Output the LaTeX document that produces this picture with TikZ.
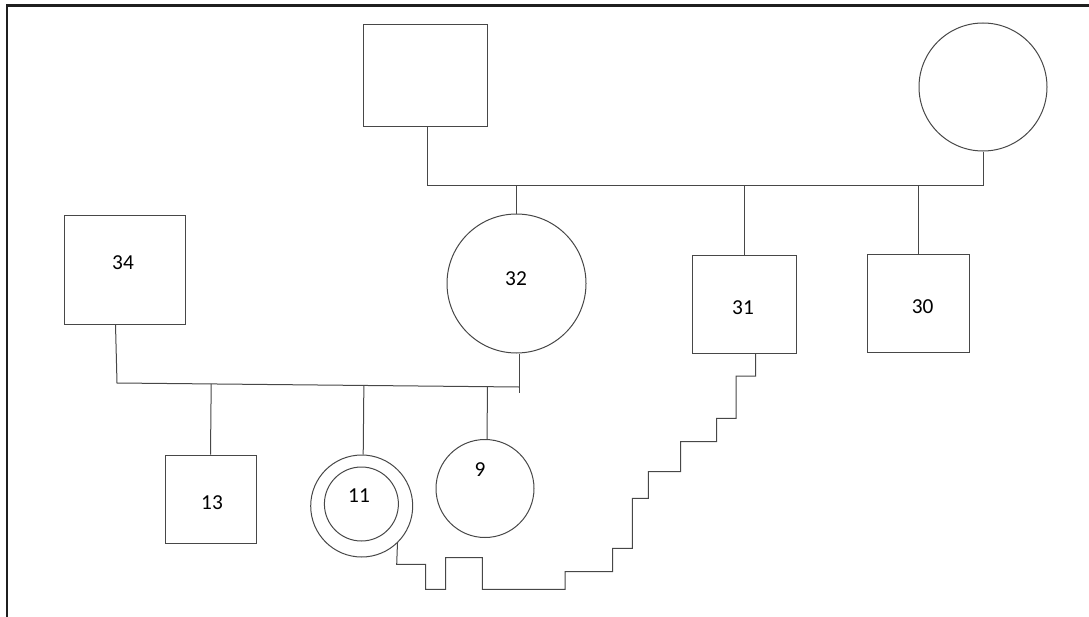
\documentclass[tikz,border=0pt]{standalone}
\usepackage{fontspec}
\setmainfont{Carlito}
\usetikzlibrary{calc}
\begin{document}
\begin{tikzpicture}[x=0.75pt,y=-0.75pt,
  ln/.style={draw=black!72,line width=0.75pt},
  sq/.style={ln,rectangle,inner sep=0pt},
  ci/.style={ln,circle,inner sep=0pt},
  lab/.style={font=\fontsize{16}{19}\selectfont,inner sep=0pt,text=black}]
\useasboundingbox (0,0) rectangle (1089,617);
% frame (top and left edges only)
\draw[black!88,line width=1.6pt] (7,617) -- (7,5.5) -- (1089,5.5);
% shapes
\node[sq,minimum width=93pt,minimum height=75.75pt] (F1) at (425,75.5) {};
\node[ci,minimum size=96pt] (M1) at (983,87) {};
\node[ci,minimum size=104.25pt] (C32) at (516.5,283.5) {};
\node[sq,minimum width=78pt,minimum height=73.5pt] (S31) at (744,304) {};
\node[sq,minimum width=76.5pt,minimum height=73.5pt] (S30) at (918.7,303.5) {};
\node[sq,minimum width=90.75pt,minimum height=81.75pt] (S34) at (124.5,269.5) {};
\node[sq,minimum width=68.25pt,minimum height=66pt] (S13) at (210.5,499) {};
\node[ci,minimum size=76.5pt] (C11) at (361.7,506) {};
\node[ci,minimum size=55.5pt] (C11in) at (361.4,504) {};
\node[ci,minimum size=73.5pt] (C9) at (485,488.5) {};
% labels
\node[lab] (l34) at (123,263) {34};
\node[lab] (l32) at (516,279) {32};
\node[lab] (l31) at (743,307.5) {31};
\node[lab] (l30) at (922.7,307) {30};
\node[lab] (l13) at (212,503) {13};
\node[lab] (l11) at (359,496) {11};
\node[lab] (l9) at (480,470) {9};
% upper family
\coordinate (mL) at (427,185);
\coordinate (mR) at (983,185);
\draw[ln] ($(F1.south)+(2,0)$) -- (mL) -- (mR) -- (M1.south);
\draw[ln] (C32.north) -- (C32.north |- mL);
\draw[ln] (S31.north) -- (S31.north |- mL);
\draw[ln] (S30.north) -- (S30.north |- mL);
% lower family
\coordinate (nL) at (117,383);
\coordinate (nR) at (519,387);
\coordinate (nE) at (519,393);
\draw[ln] ($(S34.south)+(-9,0)$) -- (nL) -- (nR);
\draw[ln] (C32.south -| nE) -- (nE);
\draw[ln] (S13.north) -- ($(nL)!(S13.north)!(nR)$);
\draw[ln] ($(C11.north)+(1.5,0)$) -- ($(nL)!($(C11.north)+(1.5,0)$)!(nR)$);
\draw[ln] ($(C9.north)+(2,0)$) -- ($(nL)!($(C9.north)+(2,0)$)!(nR)$);
% staircase connector
\draw[ln] ($(S31.south)+(11.7,0)$) -- (755.7,376) -- (736,376) -- (736,418.3)
  -- (716.7,418.3) -- (716.7,441.7) -- (680.7,441.7) -- (680.7,471.7)
  -- (648.3,471.7) -- (648.3,498.3) -- (632.3,498.3) -- (632.3,548.3)
  -- (612.7,548.3) -- (612.7,571.7) -- (565,571.7) -- (565,589.3)
  -- (482.3,589.3) -- (482.3,557.7) -- (445.7,557.7) -- (445.7,589.3)
  -- (425.7,589.3) -- (425.7,564.3) -- (396.7,564.3) -- (C11.-46.7);
\end{tikzpicture}
\end{document}
